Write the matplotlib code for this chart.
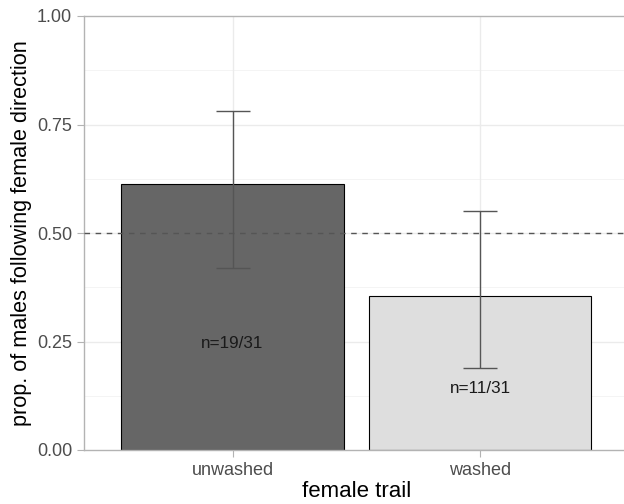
import matplotlib.pyplot as plt
import numpy as np

plt.rcParams['font.family'] = ['Liberation Sans', 'DejaVu Sans']

trails = ['unwashed', 'washed']
followed = [19, 11]
totals = [31, 31]
ci_low = [0.42, 0.19]
ci_high = [0.78, 0.55]
label_y = [0.245, 0.142]
bar_colors = ['#666666', '#DEDEDE']

props = [f / t for f, t in zip(followed, totals)]
ind = np.arange(len(trails))

fig = plt.figure(figsize=(6.24, 5.04), dpi=100)
ax = fig.add_axes([84 / 624, 54 / 504, 544.5 / 624, 434 / 504])

# grid like ggplot theme_light
for y in np.arange(0.125, 1.0, 0.25):
    ax.axhline(y, color='#F2F2F2', lw=0.6, zorder=0)
for y in [0.25, 0.5, 0.75]:
    ax.axhline(y, color='#EBEBEB', lw=1.0, zorder=0)
for x in ind:
    ax.axvline(x, color='#EBEBEB', lw=1.0, zorder=0)

ax.bar(ind, props, width=0.9, color=bar_colors, edgecolor='black', linewidth=0.8, zorder=2)

# error bars
lows = np.array(props) - np.array(ci_low)
highs = np.array(ci_high) - np.array(props)
ax.errorbar(ind, props, yerr=[lows, highs], fmt='none', ecolor='#555555',
            elinewidth=1.0, capsize=12.5, capthick=1.0, zorder=3)

ax.axhline(0.5, color='#555555', lw=1.0, ls=(0, (4, 4)), zorder=4)

for x, y, f, t in zip(ind, label_y, followed, totals):
    ax.text(x, y, 'n=%d/%d' % (f, t), ha='center', va='center', fontsize=12.3, color='#1A1A1A', zorder=5)

ax.set_xlim(-0.6, 1.6)
ax.set_ylim(0, 1)
ax.set_xticks(ind)
ax.set_xticklabels(trails)
ax.set_yticks([0, 0.25, 0.5, 0.75, 1.0])
ax.set_yticklabels(['0.00', '0.25', '0.50', '0.75', '1.00'])
ax.tick_params(colors='#B3B3B3', labelcolor='#4D4D4D', labelsize=13, length=5, width=0.8)

for s in ax.spines.values():
    s.set_color('#B3B3B3')
    s.set_linewidth(1.0)

ax.set_xlabel('female trail', fontsize=16, color='black', va='center')
ax.xaxis.set_label_coords(0.501, -0.0956)
ax.set_ylabel('prop. of males following female direction', fontsize=15.6, color='black', va='center')
ax.yaxis.set_label_coords(-0.114, 0.5)

fig.savefig('out.png', dpi=100)
